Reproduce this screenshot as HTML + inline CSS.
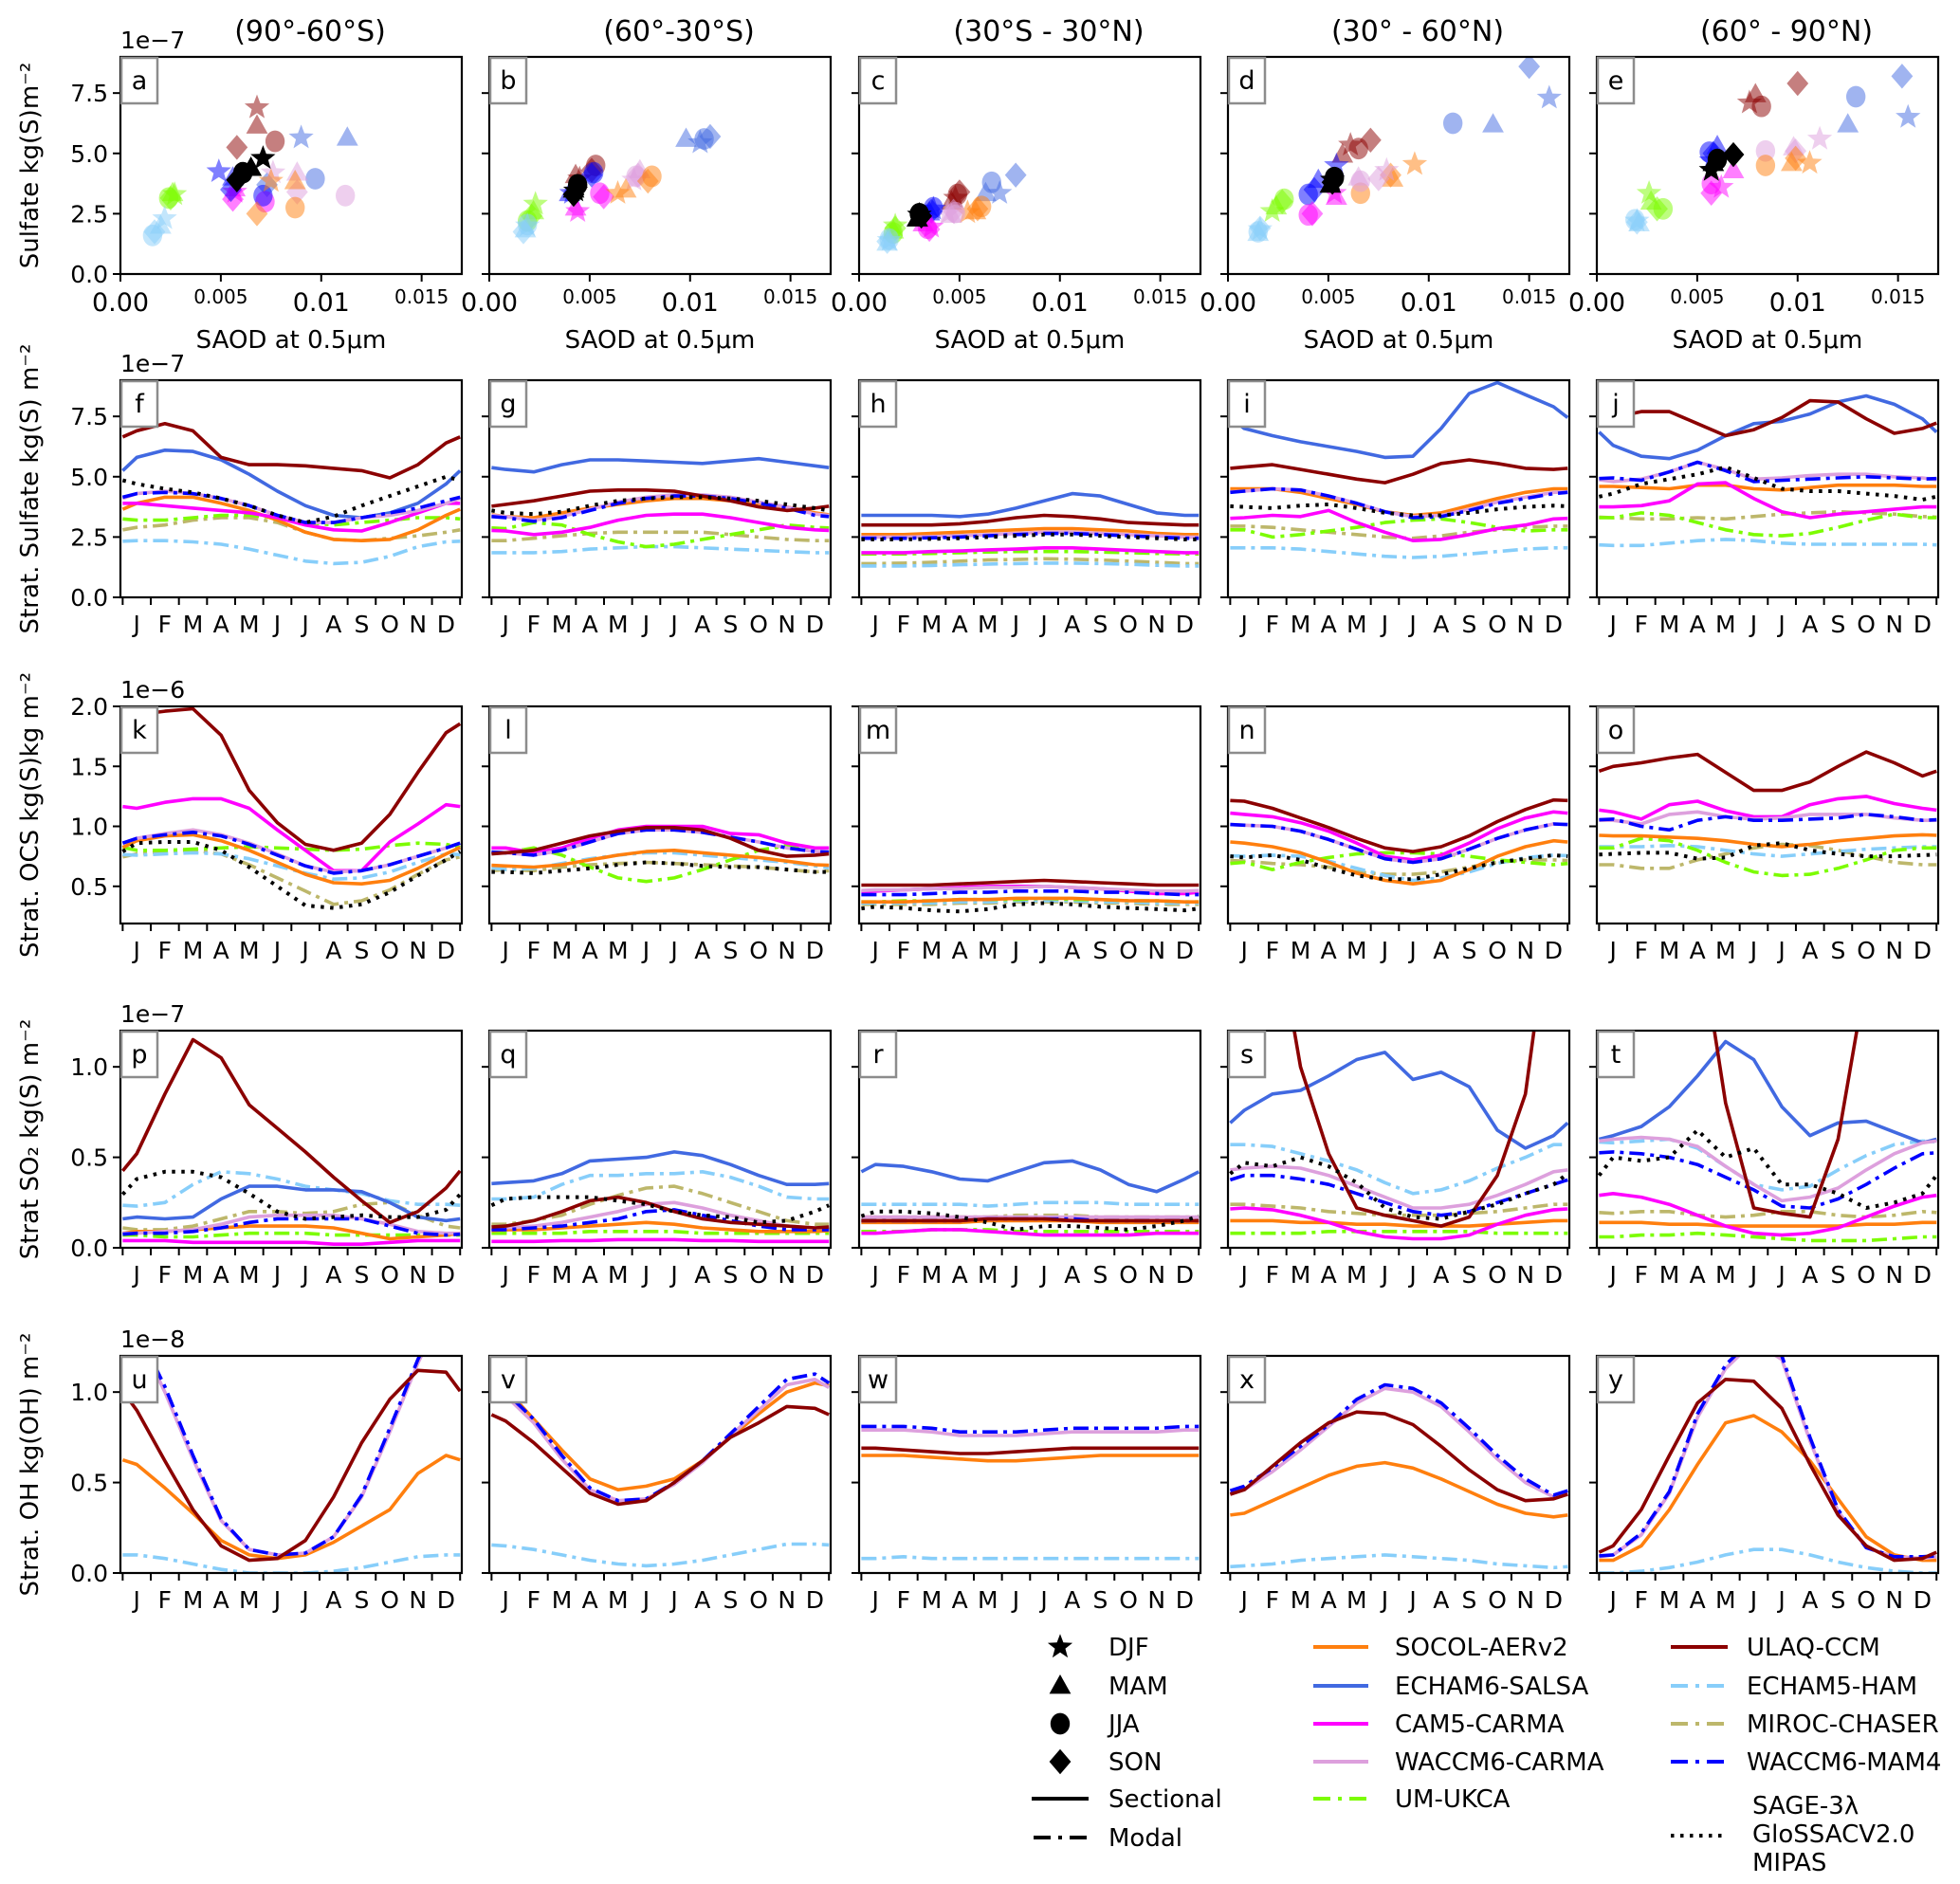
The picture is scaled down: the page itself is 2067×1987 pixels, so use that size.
<!DOCTYPE html>
<html><head><meta charset="utf-8"><style>
html,body{margin:0;padding:0;background:#fff;}
svg{display:block;font-family:"DejaVu Sans","Liberation Sans",sans-serif;}
</style></head><body>
<svg id="fig" width="2067" height="1987" viewBox="0 0 2067 1987" xmlns="http://www.w3.org/2000/svg"></svg>
<script>
// ---------- data ----------
const monthLabels = ["J","F","M","A","M","J","J","A","S","O","N","D"];
const regionTitles = ["(90°-60°S)","(60°-30°S)","(30°S - 30°N)","(30° - 60°N)","(60° - 90°N)"];
const panelLetters = [["a","b","c","d","e"],["f","g","h","i","j"],["k","l","m","n","o"],["p","q","r","s","t"],["u","v","w","x","y"]];
const seriesNames = ["SOCOL-AERv2","ECHAM6-SALSA","CAM5-CARMA","WACCM6-CARMA","UM-UKCA","ULAQ-CCM","ECHAM5-HAM","MIROC-CHASER","WACCM6-MAM4","Obs"];
const seasonNames = ["DJF","MAM","JJA","SON"];
const saodTicks = [0,0.005,0.01,0.015];
const saodTickLabels = ["0.00","0.005","0.01","0.015"];
const sulfTicks = [0,2.5,5,7.5];
const sulfTickLabels = ["0.0","2.5","5.0","7.5"];
const ocsTicks = [0.5,1.0,1.5,2.0];
const ocsTickLabels = ["0.5","1.0","1.5","2.0"];
const so2Ticks = [0,0.5,1.0];
const so2TickLabels = ["0.0","0.5","1.0"];
const ohTicks = [0,0.5,1.0];
const ohTickLabels = ["0.0","0.5","1.0"];

// scatter: [model, season, SAOD, sulfate(1e-7)]
const scatterA = [[5,0,.0068,6.9],[5,1,.0068,6.15],[5,2,.0077,5.5],[5,3,.0058,5.25],[1,0,.009,5.65],[1,1,.0113,5.65],[1,2,.0097,3.95],[1,3,.0073,3.7],[2,0,.0057,3.4],[2,1,.0057,3.55],[2,2,.0072,3.0],[2,3,.0056,3.1],[8,0,.0049,4.25],[8,1,.0056,4.0],[8,2,.0071,3.25],[8,3,.0055,3.5],[3,0,.0076,4.2],[3,1,.0088,4.2],[3,2,.0112,3.25],[3,3,.0088,3.4],[0,0,.0075,3.85],[0,1,.0087,3.85],[0,2,.0087,2.75],[0,3,.0068,2.5],[4,0,.0027,3.3],[4,1,.0026,3.35],[4,2,.0024,3.15],[4,3,.0025,3.15],[6,0,.0022,2.3],[6,1,.002,2.0],[6,2,.0016,1.6],[6,3,.0017,1.75],[9,0,.0071,4.8],[9,1,.0065,4.4],[9,2,.0061,4.2],[9,3,.0058,3.9]];
const scatterB = [[1,0,.0105,5.45],[1,1,.0098,5.6],[1,2,.0107,5.6],[1,3,.011,5.7],[5,0,.0045,3.95],[5,1,.0043,4.1],[5,2,.0053,4.5],[5,3,.0051,4.3],[8,0,.0041,3.35],[8,1,.004,3.35],[8,2,.0052,4.2],[8,3,.0051,4.1],[2,0,.0044,2.6],[2,1,.0043,2.75],[2,2,.0055,3.35],[2,3,.0057,3.2],[3,0,.0072,3.9],[3,1,.0075,4.3],[3,2,.0073,4.05],[3,3,.0074,4.1],[0,0,.0064,3.35],[0,1,.0068,3.5],[0,2,.0081,4.05],[0,3,.0079,3.85],[4,0,.0023,2.9],[4,1,.0022,2.6],[4,2,.0019,2.2],[4,3,.0021,2.4],[6,0,.0019,2.0],[6,1,.0018,1.85],[6,2,.0019,2.05],[6,3,.0017,1.75],[9,0,.0043,3.45],[9,1,.0042,3.5],[9,2,.0044,3.7],[9,3,.0042,3.3]];
const scatterC = [[1,0,.007,3.35],[1,1,.0063,3.35],[1,2,.0066,3.8],[1,3,.0078,4.1],[5,0,.0048,3.15],[5,1,.0046,3.0],[5,2,.0049,3.3],[5,3,.005,3.4],[0,0,.0054,2.55],[0,1,.0058,2.6],[0,2,.0061,2.8],[0,3,.0059,2.7],[3,0,.0044,2.5],[3,1,.0046,2.45],[3,2,.0048,2.55],[3,3,.0047,2.6],[8,0,.0037,2.7],[8,1,.0035,2.55],[8,2,.0037,2.75],[8,3,.0036,2.6],[2,0,.0036,1.95],[2,1,.0032,2.1],[2,2,.0034,1.9],[2,3,.0035,1.85],[4,0,.0018,2.0],[4,1,.0017,1.8],[4,2,.0017,1.7],[4,3,.0018,1.9],[6,0,.0015,1.4],[6,1,.0014,1.3],[6,2,.0015,1.45],[6,3,.0014,1.35],[9,0,.003,2.45],[9,1,.0029,2.3],[9,2,.003,2.5],[9,3,.0031,2.4]];
const scatterD = [[1,0,.016,7.3],[1,1,.0132,6.2],[1,2,.0112,6.25],[1,3,.015,8.6],[5,0,.0061,5.35],[5,1,.0057,4.95],[5,2,.0065,5.2],[5,3,.0071,5.55],[0,0,.0093,4.55],[0,1,.0082,3.95],[0,2,.0066,3.35],[0,3,.0081,4.1],[3,0,.0079,4.3],[3,1,.0065,4.0],[3,2,.0066,3.85],[3,3,.0075,3.95],[8,0,.0054,4.5],[8,1,.0045,3.9],[8,2,.004,3.3],[8,3,.0043,3.5],[2,0,.0053,3.35],[2,1,.0054,3.2],[2,2,.004,2.45],[2,3,.0042,2.5],[4,0,.0022,2.6],[4,1,.0024,2.8],[4,2,.0028,3.1],[4,3,.0027,3.0],[6,0,.0016,1.85],[6,1,.0015,1.7],[6,2,.0015,1.75],[6,3,.0016,1.9],[9,0,.0052,3.9],[9,1,.0051,3.7],[9,2,.0053,4.0],[9,3,.0052,3.8]];
const scatterE = [[1,0,.0155,6.5],[1,1,.0125,6.2],[1,2,.0129,7.35],[1,3,.0152,8.2],[5,0,.0076,7.1],[5,1,.0079,7.45],[5,2,.0082,6.95],[5,3,.01,7.9],[3,0,.0111,5.6],[3,1,.0098,5.25],[3,2,.0084,5.1],[3,3,.0099,5.1],[0,0,.0106,4.6],[0,1,.0097,4.6],[0,2,.0084,4.5],[0,3,.0099,4.8],[8,0,.0057,4.7],[8,1,.006,5.3],[8,2,.0056,5.05],[8,3,.0058,5.0],[2,0,.0062,3.6],[2,1,.0068,4.3],[2,2,.0057,3.75],[2,3,.0057,3.35],[4,0,.0026,3.35],[4,1,.0027,3.0],[4,2,.0033,2.7],[4,3,.003,2.7],[6,0,.002,2.2],[6,1,.0021,2.1],[6,2,.0019,2.25],[6,3,.002,2.15],[9,0,.0057,4.3],[9,1,.0058,4.6],[9,2,.006,4.75],[9,3,.0068,4.95]];

// Row 2: stratospheric sulfate (1e-7)
const sulfSocol = [[3.9,4.15,4.15,3.9,3.6,3.2,2.7,2.4,2.35,2.4,2.8,3.4],[3.35,3.3,3.5,3.7,3.85,4.0,4.1,4.1,4.0,3.9,3.75,3.5],[2.6,2.6,2.65,2.7,2.75,2.8,2.85,2.85,2.8,2.75,2.65,2.6],[4.5,4.5,4.35,4.1,3.85,3.55,3.4,3.5,3.8,4.1,4.35,4.5],[4.6,4.55,4.5,4.65,4.65,4.5,4.45,4.55,4.65,4.65,4.65,4.6]];
const sulfEcham6 = [[5.8,6.1,6.05,5.7,5.1,4.4,3.8,3.4,3.3,3.5,3.9,4.7],[5.3,5.2,5.5,5.7,5.7,5.65,5.6,5.55,5.65,5.75,5.6,5.45],[3.4,3.4,3.4,3.35,3.45,3.7,4.0,4.3,4.2,3.85,3.5,3.4],[7.0,6.7,6.45,6.25,6.05,5.8,5.85,7.0,8.45,8.9,8.4,7.9],[6.3,5.85,5.75,6.1,6.7,7.2,7.3,7.6,8.1,8.35,8.0,7.4]];
const sulfCam5 = [[3.9,3.8,3.7,3.6,3.5,3.3,3.0,2.8,2.75,3.1,3.5,3.9],[2.75,2.6,2.7,2.9,3.2,3.4,3.45,3.45,3.3,3.1,2.9,2.8],[1.85,1.85,1.9,1.92,1.97,2.0,2.05,2.05,2.0,1.95,1.9,1.85],[3.3,3.4,3.35,3.6,3.1,2.7,2.35,2.4,2.6,2.85,3.0,3.25],[3.75,3.8,4.0,4.7,4.75,4.1,3.55,3.3,3.45,3.55,3.65,3.75]];
const sulfWc = [[4.3,4.4,4.3,4.1,3.8,3.4,3.1,3.1,3.3,3.4,3.6,3.9],[3.35,3.2,3.35,3.65,3.95,4.15,4.25,4.25,4.15,3.95,3.75,3.45],[2.5,2.5,2.52,2.55,2.6,2.65,2.7,2.7,2.65,2.6,2.55,2.5],[4.4,4.5,4.45,4.2,3.9,3.55,3.35,3.4,3.65,3.95,4.15,4.35],[4.8,4.9,5.2,5.6,5.3,4.9,4.95,5.05,5.1,5.1,5.0,4.95]];
const sulfUkca = [[3.2,3.2,3.3,3.4,3.4,3.3,3.1,3.0,3.1,3.2,3.3,3.3],[2.85,3.1,3.0,2.6,2.3,2.1,2.2,2.4,2.6,2.8,3.0,2.9],[1.8,1.8,1.82,1.85,1.88,1.9,1.9,1.9,1.88,1.85,1.82,1.8],[2.8,2.5,2.6,2.75,2.9,3.1,3.2,3.25,3.1,2.9,2.75,2.8],[3.3,3.5,3.4,3.1,2.8,2.6,2.55,2.65,2.9,3.2,3.45,3.3]];
const sulfUlaq = [[6.9,7.2,6.9,5.8,5.5,5.5,5.45,5.35,5.25,4.95,5.5,6.4],[3.85,4.0,4.2,4.4,4.45,4.45,4.4,4.2,4.0,3.75,3.6,3.7],[3.0,3.0,3.0,3.05,3.15,3.3,3.4,3.35,3.25,3.1,3.05,3.0],[5.4,5.5,5.3,5.1,4.9,4.75,5.1,5.55,5.7,5.55,5.35,5.3],[7.45,7.7,7.7,7.2,6.7,6.95,7.45,8.15,8.1,7.4,6.8,7.0]];
const sulfEcham5 = [[2.35,2.35,2.3,2.2,2.0,1.75,1.5,1.4,1.45,1.7,2.1,2.3],[1.85,1.85,1.9,2.0,2.05,2.1,2.1,2.05,2.0,1.95,1.9,1.85],[1.3,1.3,1.32,1.35,1.38,1.4,1.42,1.42,1.4,1.37,1.33,1.3],[2.05,2.05,2.0,1.9,1.8,1.7,1.65,1.7,1.8,1.9,2.0,2.05],[2.15,2.15,2.25,2.35,2.4,2.35,2.25,2.2,2.2,2.2,2.2,2.2]];
const sulfMiroc = [[2.9,3.0,3.2,3.3,3.3,3.1,2.7,2.4,2.35,2.45,2.55,2.7],[2.35,2.45,2.55,2.65,2.7,2.7,2.7,2.7,2.6,2.5,2.4,2.35],[1.4,1.42,1.45,1.5,1.55,1.57,1.6,1.58,1.55,1.5,1.45,1.4],[2.95,2.9,2.8,2.7,2.6,2.5,2.45,2.55,2.7,2.8,2.9,2.95],[3.3,3.25,3.25,3.3,3.25,3.35,3.45,3.5,3.55,3.5,3.45,3.35]];
const sulfMam4 = [[4.3,4.35,4.3,4.1,3.8,3.4,3.1,3.1,3.3,3.5,3.7,4.0],[3.3,3.15,3.3,3.6,3.9,4.1,4.2,4.2,4.1,3.9,3.7,3.4],[2.45,2.45,2.47,2.5,2.55,2.6,2.65,2.65,2.6,2.55,2.5,2.45],[4.4,4.5,4.45,4.2,3.9,3.55,3.3,3.35,3.6,3.9,4.1,4.3],[4.95,4.85,5.2,5.6,5.25,4.8,4.85,4.9,4.95,5.0,4.95,4.9]];
const sulfObs = [[4.7,4.5,4.35,4.1,3.8,3.4,3.1,3.35,3.8,4.2,4.6,5.0],[3.5,3.45,3.55,3.8,4.0,4.1,4.15,4.15,4.1,4.0,3.85,3.7],[2.4,2.4,2.42,2.45,2.5,2.55,2.6,2.6,2.55,2.5,2.45,2.4],[3.75,3.7,3.8,3.85,3.7,3.5,3.4,3.4,3.5,3.65,3.75,3.8],[4.3,4.7,4.9,5.1,5.4,4.95,4.5,4.4,4.4,4.3,4.2,4.05]];

// Row 3: OCS (1e-6)
const ocsSocol = [[0.88,0.92,0.93,0.88,0.8,0.7,0.6,0.53,0.52,0.55,0.65,0.77],[0.67,0.66,0.68,0.72,0.76,0.79,0.8,0.78,0.76,0.74,0.71,0.68],[0.37,0.37,0.38,0.39,0.39,0.4,0.4,0.4,0.39,0.38,0.38,0.37],[0.86,0.83,0.78,0.7,0.61,0.55,0.52,0.55,0.64,0.75,0.83,0.88],[0.92,0.92,0.91,0.9,0.88,0.85,0.83,0.85,0.88,0.9,0.92,0.93]];
const ocsCam5 = [[1.15,1.2,1.23,1.23,1.15,0.97,0.8,0.63,0.63,0.87,1.02,1.18],[0.82,0.78,0.82,0.9,0.97,1.0,1.0,1.0,0.94,0.93,0.86,0.82],[0.46,0.47,0.48,0.49,0.5,0.5,0.5,0.49,0.48,0.46,0.44,0.44],[1.1,1.08,1.03,0.96,0.86,0.75,0.72,0.76,0.86,0.98,1.07,1.12],[1.12,1.06,1.18,1.21,1.13,1.08,1.08,1.18,1.23,1.25,1.19,1.15]];
const ocsWc = [[0.9,0.94,0.97,0.93,0.86,0.77,0.67,0.62,0.63,0.68,0.75,0.82],[0.78,0.76,0.8,0.87,0.94,0.97,0.97,0.95,0.91,0.87,0.82,0.79],[0.47,0.47,0.48,0.48,0.49,0.49,0.5,0.49,0.48,0.47,0.46,0.46],[1.01,1.0,0.96,0.89,0.81,0.73,0.7,0.73,0.81,0.9,0.97,1.02],[1.05,1.02,1.1,1.12,1.08,1.06,1.07,1.1,1.1,1.1,1.07,1.05]];
const ocsUkca = [[0.8,0.8,0.81,0.82,0.83,0.82,0.81,0.8,0.81,0.84,0.86,0.85],[0.78,0.82,0.76,0.66,0.57,0.54,0.57,0.64,0.72,0.8,0.84,0.79],[0.37,0.38,0.38,0.39,0.39,0.39,0.4,0.39,0.39,0.38,0.38,0.37],[0.7,0.64,0.7,0.74,0.77,0.78,0.78,0.77,0.75,0.72,0.7,0.68],[0.82,0.9,0.88,0.8,0.7,0.62,0.59,0.6,0.65,0.72,0.8,0.82]];
const ocsUlaq = [[1.93,1.96,1.98,1.76,1.3,1.03,0.85,0.8,0.86,1.1,1.45,1.78],[0.78,0.8,0.86,0.92,0.96,0.99,0.99,0.97,0.9,0.8,0.75,0.76],[0.51,0.51,0.51,0.52,0.53,0.54,0.55,0.54,0.53,0.52,0.51,0.51],[1.21,1.15,1.07,0.99,0.9,0.82,0.79,0.83,0.92,1.04,1.14,1.22],[1.5,1.53,1.57,1.6,1.45,1.3,1.3,1.37,1.5,1.62,1.53,1.42]];
const ocsEcham5 = [[0.76,0.77,0.78,0.77,0.73,0.67,0.61,0.56,0.57,0.62,0.7,0.77],[0.64,0.65,0.69,0.73,0.76,0.78,0.78,0.76,0.74,0.72,0.7,0.67],[0.36,0.36,0.36,0.37,0.37,0.38,0.38,0.38,0.37,0.37,0.36,0.36],[0.75,0.76,0.75,0.71,0.65,0.59,0.55,0.57,0.62,0.69,0.74,0.76],[0.83,0.83,0.84,0.83,0.8,0.77,0.75,0.77,0.79,0.81,0.82,0.83]];
const ocsMiroc = [[0.77,0.79,0.8,0.77,0.68,0.57,0.46,0.35,0.38,0.47,0.6,0.72],[0.64,0.63,0.66,0.68,0.69,0.7,0.69,0.68,0.67,0.66,0.64,0.62],[0.35,0.35,0.35,0.36,0.36,0.37,0.37,0.37,0.36,0.36,0.35,0.35],[0.71,0.69,0.68,0.66,0.62,0.6,0.6,0.62,0.66,0.7,0.72,0.72],[0.68,0.65,0.65,0.72,0.77,0.82,0.85,0.84,0.8,0.75,0.7,0.68]];
const ocsMam4 = [[0.9,0.93,0.95,0.92,0.85,0.76,0.67,0.61,0.63,0.68,0.75,0.82],[0.78,0.76,0.8,0.87,0.94,0.97,0.97,0.95,0.91,0.87,0.82,0.79],[0.43,0.43,0.44,0.45,0.45,0.46,0.46,0.46,0.45,0.45,0.44,0.43],[1.01,1.0,0.96,0.89,0.81,0.73,0.7,0.73,0.81,0.9,0.97,1.02],[1.06,1.0,0.97,1.05,1.08,1.05,1.05,1.06,1.07,1.1,1.08,1.05]];
const ocsObs = [[0.86,0.87,0.87,0.8,0.66,0.5,0.34,0.32,0.35,0.45,0.59,0.72],[0.62,0.61,0.63,0.65,0.68,0.7,0.69,0.67,0.66,0.66,0.64,0.62],[0.33,0.32,0.3,0.29,0.31,0.35,0.36,0.35,0.33,0.32,0.31,0.3],[0.74,0.76,0.72,0.65,0.59,0.56,0.56,0.6,0.65,0.7,0.73,0.76],[0.77,0.78,0.78,0.73,0.74,0.84,0.86,0.8,0.77,0.75,0.75,0.76]];

// Row 4: SO2 (1e-7)
const so2Socol = [[0.09,0.09,0.1,0.11,0.12,0.12,0.12,0.11,0.08,0.05,0.06,0.07],[0.1,0.1,0.11,0.12,0.13,0.14,0.13,0.11,0.1,0.09,0.09,0.09],[0.14,0.14,0.14,0.14,0.15,0.15,0.15,0.15,0.14,0.14,0.14,0.14],[0.15,0.15,0.14,0.14,0.13,0.13,0.12,0.12,0.12,0.13,0.14,0.15],[0.14,0.14,0.13,0.13,0.12,0.12,0.12,0.12,0.12,0.13,0.13,0.14]];
const so2Echam6 = [[0.17,0.16,0.17,0.27,0.34,0.34,0.32,0.32,0.31,0.25,0.17,0.15],[0.36,0.37,0.41,0.48,0.49,0.5,0.53,0.51,0.46,0.4,0.35,0.35],[0.46,0.45,0.42,0.38,0.37,0.42,0.47,0.48,0.43,0.35,0.31,0.38],[0.76,0.85,0.87,0.95,1.04,1.08,0.93,0.97,0.89,0.65,0.55,0.62],[0.62,0.67,0.78,0.95,1.14,1.04,0.78,0.62,0.69,0.7,0.64,0.58]];
const so2Cam5 = [[0.04,0.04,0.03,0.03,0.03,0.03,0.03,0.02,0.02,0.03,0.04,0.04],[0.035,0.035,0.04,0.04,0.045,0.045,0.045,0.04,0.04,0.035,0.035,0.035],[0.08,0.09,0.1,0.1,0.09,0.08,0.07,0.07,0.07,0.07,0.08,0.08],[0.22,0.21,0.18,0.14,0.09,0.06,0.05,0.05,0.07,0.13,0.18,0.21],[0.3,0.28,0.24,0.18,0.12,0.08,0.07,0.08,0.11,0.17,0.23,0.28]];
const so2Wc = [[0.08,0.09,0.1,0.13,0.17,0.18,0.18,0.18,0.16,0.13,0.09,0.08],[0.11,0.12,0.14,0.17,0.2,0.24,0.25,0.22,0.18,0.15,0.12,0.11],[0.17,0.17,0.17,0.17,0.17,0.17,0.17,0.17,0.17,0.17,0.17,0.17],[0.44,0.45,0.44,0.4,0.34,0.28,0.22,0.22,0.24,0.29,0.35,0.42],[0.6,0.61,0.6,0.56,0.45,0.35,0.26,0.28,0.33,0.43,0.52,0.58]];
const so2Ukca = [[0.07,0.06,0.06,0.07,0.08,0.08,0.08,0.07,0.07,0.07,0.07,0.07],[0.08,0.08,0.08,0.09,0.09,0.09,0.09,0.08,0.08,0.08,0.08,0.08],[0.09,0.09,0.1,0.1,0.1,0.09,0.09,0.09,0.09,0.09,0.09,0.09],[0.08,0.08,0.08,0.09,0.09,0.09,0.09,0.09,0.09,0.08,0.08,0.08],[0.06,0.07,0.07,0.08,0.07,0.06,0.05,0.04,0.04,0.04,0.05,0.06]];
const so2Ulaq = [[0.52,0.85,1.15,1.05,0.79,0.66,0.53,0.39,0.26,0.14,0.2,0.33],[0.12,0.15,0.2,0.26,0.28,0.25,0.2,0.16,0.14,0.13,0.12,0.11],[0.15,0.15,0.15,0.15,0.16,0.16,0.16,0.15,0.15,0.15,0.15,0.15],[2.8,1.9,1.0,0.52,0.22,0.18,0.15,0.12,0.17,0.4,0.85,2.0],[3.0,3.0,2.6,1.8,0.8,0.22,0.19,0.17,0.6,1.5,2.5,3.0]];
const so2Echam5 = [[0.23,0.25,0.35,0.42,0.41,0.38,0.34,0.32,0.3,0.26,0.24,0.24],[0.27,0.28,0.35,0.4,0.4,0.41,0.41,0.42,0.39,0.34,0.28,0.27],[0.24,0.24,0.24,0.24,0.23,0.24,0.25,0.25,0.25,0.24,0.24,0.24],[0.57,0.56,0.52,0.48,0.43,0.36,0.3,0.32,0.37,0.44,0.5,0.57],[0.58,0.59,0.6,0.55,0.45,0.35,0.32,0.34,0.43,0.51,0.57,0.59]];
const so2Miroc = [[0.1,0.1,0.12,0.16,0.2,0.2,0.19,0.2,0.24,0.25,0.18,0.12],[0.13,0.15,0.18,0.24,0.29,0.33,0.34,0.3,0.25,0.2,0.15,0.13],[0.17,0.17,0.17,0.17,0.17,0.18,0.18,0.18,0.17,0.17,0.17,0.17],[0.24,0.23,0.22,0.2,0.19,0.18,0.18,0.18,0.19,0.2,0.22,0.24],[0.19,0.2,0.2,0.18,0.17,0.18,0.2,0.2,0.18,0.17,0.18,0.2]];
const so2Mam4 = [[0.08,0.08,0.09,0.11,0.14,0.16,0.16,0.16,0.16,0.12,0.08,0.07],[0.1,0.11,0.12,0.14,0.16,0.2,0.21,0.18,0.15,0.12,0.1,0.1],[0.15,0.15,0.15,0.15,0.16,0.16,0.16,0.16,0.15,0.15,0.15,0.15],[0.4,0.4,0.38,0.35,0.3,0.25,0.2,0.18,0.2,0.25,0.3,0.35],[0.53,0.52,0.5,0.46,0.39,0.32,0.23,0.22,0.27,0.35,0.44,0.52]];
const so2Obs = [[0.38,0.42,0.42,0.39,0.3,0.2,0.16,0.17,0.18,0.17,0.17,0.21],[0.27,0.28,0.28,0.28,0.26,0.24,0.2,0.18,0.17,0.14,0.15,0.2],[0.2,0.2,0.19,0.17,0.14,0.1,0.12,0.12,0.11,0.1,0.12,0.15],[0.47,0.45,0.5,0.45,0.36,0.22,0.17,0.16,0.2,0.24,0.3,0.35],[0.5,0.48,0.5,0.65,0.5,0.55,0.35,0.35,0.3,0.22,0.25,0.3]];

// Row 5: OH (1e-8)
const ohSocol = [[0.6,0.47,0.33,0.18,0.1,0.08,0.1,0.17,0.26,0.35,0.55,0.65],[1.02,0.85,0.68,0.52,0.46,0.48,0.52,0.62,0.75,0.88,1.0,1.05],[0.65,0.65,0.64,0.63,0.62,0.62,0.63,0.64,0.65,0.65,0.65,0.65],[0.33,0.4,0.47,0.54,0.59,0.61,0.58,0.52,0.45,0.38,0.33,0.31],[0.07,0.15,0.35,0.6,0.83,0.87,0.78,0.62,0.41,0.2,0.1,0.07]];
const ohUlaq = [[0.9,0.62,0.35,0.15,0.07,0.08,0.18,0.42,0.72,0.96,1.12,1.11],[0.84,0.72,0.58,0.44,0.38,0.4,0.5,0.62,0.75,0.83,0.92,0.91],[0.69,0.68,0.67,0.66,0.66,0.67,0.68,0.69,0.69,0.69,0.69,0.69],[0.46,0.59,0.72,0.83,0.89,0.88,0.82,0.7,0.57,0.46,0.4,0.41],[0.15,0.35,0.65,0.94,1.07,1.06,0.91,0.6,0.32,0.15,0.07,0.08]];
const ohWc = [[1.33,1.0,0.63,0.29,0.13,0.1,0.11,0.2,0.42,0.78,1.16,1.48],[0.98,0.83,0.63,0.46,0.4,0.41,0.49,0.61,0.76,0.9,1.04,1.07],[0.79,0.79,0.78,0.76,0.76,0.76,0.77,0.78,0.78,0.78,0.78,0.79],[0.46,0.56,0.68,0.81,0.94,1.02,1.0,0.92,0.78,0.63,0.5,0.42],[0.1,0.21,0.44,0.86,1.13,1.28,1.18,0.73,0.34,0.14,0.09,0.08]];
const ohMam4 = [[1.35,1.03,0.65,0.3,0.13,0.1,0.11,0.2,0.43,0.8,1.18,1.5],[1.0,0.85,0.65,0.47,0.4,0.41,0.5,0.62,0.77,0.92,1.07,1.1],[0.81,0.81,0.8,0.78,0.78,0.78,0.79,0.8,0.8,0.8,0.8,0.81],[0.48,0.58,0.7,0.82,0.96,1.04,1.02,0.94,0.8,0.65,0.52,0.43],[0.1,0.22,0.45,0.88,1.15,1.3,1.2,0.75,0.35,0.14,0.09,0.09]];
const ohEcham5 = [[0.1,0.08,0.05,0.02,0.0,0.0,0.0,0.01,0.03,0.06,0.09,0.1],[0.15,0.13,0.1,0.07,0.05,0.04,0.05,0.07,0.1,0.13,0.16,0.16],[0.08,0.09,0.08,0.08,0.08,0.08,0.08,0.08,0.08,0.08,0.08,0.08],[0.04,0.05,0.07,0.08,0.09,0.1,0.09,0.08,0.07,0.05,0.04,0.03],[0.0,0.01,0.03,0.06,0.1,0.13,0.13,0.1,0.06,0.03,0.01,0.0]];

// ---------- styling / layout ----------
const NS = "http://www.w3.org/2000/svg";
const svg = document.getElementById("fig");
const colors = ["#ff7f0e","#4169e1","#ff00ff","#dda0dd","#7cfc00","#8b0000","#87cefa","#bdb76b","#0000ff","#000000"];
const styles = ["solid","solid","solid","solid","dashdot","solid","dashdot","dashdot","dashdot","dot"];
const slugs = ["socol-aerv2","echam6-salsa","cam5-carma","waccm6-carma","um-ukca","ulaq-ccm","echam5-ham","miroc-chaser","waccm6-mam4","observations"];
const LEFTS = [127,516,906,1295,1684];
const TOPS = [60,401,745,1087,1430];
const W = 360, H = 229;

function mk(tag, attrs, parent){
  const e = document.createElementNS(NS, tag);
  for (const k in attrs) e.setAttribute(k, attrs[k]);
  (parent||svg).appendChild(e);
  return e;
}
function txt(s, x, y, size, anchor, parent){
  const t = mk("text", {x:x, y:y, "font-size":size, "text-anchor":anchor||"start", fill:"#000"}, parent);
  t.textContent = s;
  return t;
}
function dashFor(st){
  if (st==="dashdot") return "16,6,4,6";
  if (st==="dot") return "3.5,6.5";
  return "none";
}

function xMonth(c, m){
  const d0=-0.08, d1=12.06;
  return LEFTS[c] + (m-d0)/(d1-d0)*W;
}
function yScale(r, v, lo, hi){ return TOPS[r] + H - (v-lo)/(hi-lo)*H; }
function xSaod(c, v){ return LEFTS[c] + v/0.017*W; }

const rowRanges = [[0,9],[0,9],[0.19,2.0],[0,1.2],[0,1.2]];
const rowExp = ["1e\u22127","1e\u22127","1e\u22126","1e\u22127","1e\u22128"];
const rowYLabels = ["Sulfate kg(S)m\u207B\u00B2","Strat. Sulfate kg(S) m\u207B\u00B2","Strat. OCS kg(S)kg m\u207B\u00B2","Strat SO\u2082 kg(S) m\u207B\u00B2","Strat. OH kg(OH) m\u207B\u00B2"];
const rowTicks = [[sulfTicks,sulfTickLabels],[sulfTicks,sulfTickLabels],[ocsTicks,ocsTickLabels],[so2Ticks,so2TickLabels],[ohTicks,ohTickLabels]];

const defs = mk("defs", {});
for (let r=0;r<5;r++) for (let c=0;c<5;c++){
  const cp = mk("clipPath", {id:"cp"+r+"_"+c}, defs);
  mk("rect", {x:LEFTS[c], y:TOPS[r], width:W, height:H}, cp);
}

for (let c=0;c<5;c++){
  const t = txt(regionTitles[c], LEFTS[c]+W/2+20, 43, 30, "middle");
  
  
}

for (let r=0;r<5;r++){
  const cy = TOPS[r]+H/2;
  const t = mk("text", {x:0, y:0, "font-size":26, "text-anchor":"middle", transform:"translate(40,"+cy+") rotate(-90)"});
  t.textContent = rowYLabels[r];
  
  
}

function drawPanelFrame(r, c){
  const g = mk("g", {});
  
  
  const x0=LEFTS[c], y0=TOPS[r];
  const [lo,hi] = rowRanges[r];
  const [tv, tl] = rowTicks[r];
  for (let i=0;i<tv.length;i++){
    const y = yScale(r, tv[i], lo, hi);
    mk("line", {x1:x0-8, x2:x0, y1:y, y2:y, stroke:"#000", "stroke-width":2}, g);
    if (c===0){
      const t = txt(tl[i], x0-13, y+9, 25, "end", g);
      
      
    }
  }
  if (c===0){
    const e = txt(rowExp[r], x0, y0-9, 25, "start", g);
    
    
  }
  if (r===0){
    for (let i=0;i<saodTicks.length;i++){
      const x = xSaod(c, saodTicks[i]);
      mk("line", {x1:x, x2:x, y1:y0+H, y2:y0+H+8, stroke:"#000", "stroke-width":2}, g);
      const small = (i%2===1);
      const t = txt(saodTickLabels[i], x, small? y0+H+31 : y0+H+39, small?20:27, "middle", g);
      
      
    }
    const xl = txt("SAOD at 0.5\u03BCm", x0+W/2, y0+H+78, 26, "middle", g);
    
    
  } else {
    for (let m=0;m<=12;m++){
      const x = xMonth(c, m);
      mk("line", {x1:x, x2:x, y1:y0+H, y2:y0+H+8, stroke:"#000", "stroke-width":2}, g);
    }
    for (let m=0;m<12;m++){
      const t = txt(monthLabels[m], xMonth(c, m+0.5), y0+H+37, 25, "middle", g);
      
      
    }
  }
  return g;
}
function drawFrameBorder(r,c){
  const b = mk("rect", {x:LEFTS[c], y:TOPS[r], width:W, height:H, fill:"none", stroke:"#000", "stroke-width":2.2});
  
  
  const bx = mk("rect", {x:LEFTS[c]+1, y:TOPS[r]+1, width:38, height:48, fill:"#fff", stroke:"#8c8c8c", "stroke-width":2.5});
  
  
  const t = txt(panelLetters[r][c], LEFTS[c]+20, TOPS[r]+34, 27, "middle");
  
  
}

function markerPath(season, x, y, s){
  if (season===0){
    let d=""; const R=s*1.15, r=R*0.42;
    for (let i=0;i<10;i++){
      const a = -Math.PI/2 + i*Math.PI/5;
      const rr = i%2? r:R;
      d += (i?"L":"M")+(x+rr*Math.cos(a)).toFixed(1)+","+(y+rr*Math.sin(a)).toFixed(1);
    }
    return d+"Z";
  }
  if (season===1){
    return "M"+x+","+(y-s)+"L"+(x+s*0.95)+","+(y+s*0.7)+"L"+(x-s*0.95)+","+(y+s*0.7)+"Z";
  }
  if (season===2){
    return "M"+(x-s*0.85)+","+y+"a"+(s*0.85)+","+(s*0.95)+" 0 1,0 "+(s*1.7)+",0a"+(s*0.85)+","+(s*0.95)+" 0 1,0 "+(-s*1.7)+",0Z";
  }
  return "M"+x+","+(y-s*1.1)+"L"+(x+s*0.95)+","+y+"L"+x+","+(y+s*1.1)+"L"+(x-s*0.95)+","+y+"Z";
}

// ---------- row 1 scatter ----------
const scatters = [scatterA, scatterB, scatterC, scatterD, scatterE];
for (let c=0;c<5;c++){
  drawPanelFrame(0,c);
  const g = mk("g", {"clip-path":"url(#cp0_"+c+")"});
  
  
  const pts = scatters[c].slice().sort((a,b)=> (a[0]===9)-(b[0]===9));
  for (const p of pts){
    const x = xSaod(c, p[2]), y = yScale(0, p[3], 0, 9);
    const obs = p[0]===9;
    const el = mk("path", {d:markerPath(p[1], x, y, 12), fill:colors[p[0]], "fill-opacity":obs?1:0.5}, g);
    
    
  }
  drawFrameBorder(0,c);
}

// ---------- line rows ----------
const rowSeries = [
  null,
  [sulfSocol,sulfEcham6,sulfCam5,sulfWc,sulfUkca,sulfUlaq,sulfEcham5,sulfMiroc,sulfMam4,sulfObs],
  [ocsSocol,null,ocsCam5,ocsWc,ocsUkca,ocsUlaq,ocsEcham5,ocsMiroc,ocsMam4,ocsObs],
  [so2Socol,so2Echam6,so2Cam5,so2Wc,so2Ukca,so2Ulaq,so2Echam5,so2Miroc,so2Mam4,so2Obs],
  [ohSocol,null,null,ohWc,null,ohUlaq,ohEcham5,null,ohMam4,null]
];
const drawOrder = [7,6,4,0,1,2,3,8,5,9];
for (let r=1;r<5;r++){
  for (let c=0;c<5;c++){
    drawPanelFrame(r,c);
    const [lo,hi] = rowRanges[r];
    const g = mk("g", {"clip-path":"url(#cp"+r+"_"+c+")"});
    
    
    for (const s of drawOrder){
      const arr = rowSeries[r][s];
      if (!arr) continue;
      const v = arr[c];
      const edge = (v[0]+v[11])/2;
      const pts = [[0,edge]];
      for (let m=0;m<12;m++) pts.push([m+0.5, v[m]]);
      pts.push([12, edge]);
      const d = pts.map((p,i)=>(i?"L":"M")+xMonth(c,p[0]).toFixed(1)+","+yScale(r,p[1],lo,hi).toFixed(1)).join("");
      const attrs = {d:d, fill:"none", stroke:colors[s], "stroke-width":(styles[s]==="dot"?4:3.6), "stroke-linejoin":"round"};
      const da = dashFor(styles[s]);
      if (da!=="none") attrs["stroke-dasharray"] = da;
      const el = mk("path", attrs, g);
      
      
    }
    drawFrameBorder(r,c);
  }
}

// ---------- legend ----------
const lg = mk("g", {});


const legY = [1737,1778,1818,1858,1897,1938];
for (let i=0;i<4;i++){
  const m = mk("path", {d:markerPath(i, 1118, legY[i], 12), fill:"#000"}, lg);
  
  
  const t = txt(seasonNames[i], 1169, legY[i]+9, 26, "start", lg);
  
  
}
{
  const l1 = mk("line", {x1:1088, x2:1148, y1:legY[4], y2:legY[4], stroke:"#000", "stroke-width":4}, lg);
  
  
  const t1 = txt("Sectional", 1169, legY[4]+9, 26, "start", lg);
  
  
  const l2 = mk("line", {x1:1090, x2:1148, y1:legY[5], y2:legY[5], stroke:"#000", "stroke-width":4, "stroke-dasharray":"18,8,4,8"}, lg);
  
  
  const t2 = txt("Modal", 1169, legY[5]+9, 26, "start", lg);
  
  
}
const col2 = [0,1,2,3,4], col3 = [5,6,7,8];
col2.forEach((s,i)=>{
  const attrs = {x1:1385, x2:1443, y1:legY[i], y2:legY[i], stroke:colors[s], "stroke-width":4};
  if (styles[s]!=="solid") attrs["stroke-dasharray"] = "18,8,4,8";
  const l = mk("line", attrs, lg);
  
  
  const t = txt(seriesNames[s], 1471, legY[i]+9, 26, "start", lg);
  
  
});
col3.forEach((s,i)=>{
  const attrs = {x1:1762, x2:1822, y1:legY[i], y2:legY[i], stroke:colors[s], "stroke-width":4};
  if (styles[s]!=="solid") attrs["stroke-dasharray"] = "18,8,4,8";
  const l = mk("line", attrs, lg);
  
  
  const t = txt(seriesNames[s], 1842, legY[i]+9, 26, "start", lg);
  
  
});
{
  const l = mk("line", {x1:1762, x2:1822, y1:1936, y2:1936, stroke:"#000", "stroke-width":4, "stroke-dasharray":"3.5,6.5"}, lg);
  
  
  const obsLabels = ["SAGE-3\u03BB","GloSSACV2.0","MIPAS"];
  obsLabels.forEach((s,i)=>{
    const t = txt(s, 1848, 1913+i*30, 26, "start", lg);
    
    
  });
}
</script>
</body></html>
